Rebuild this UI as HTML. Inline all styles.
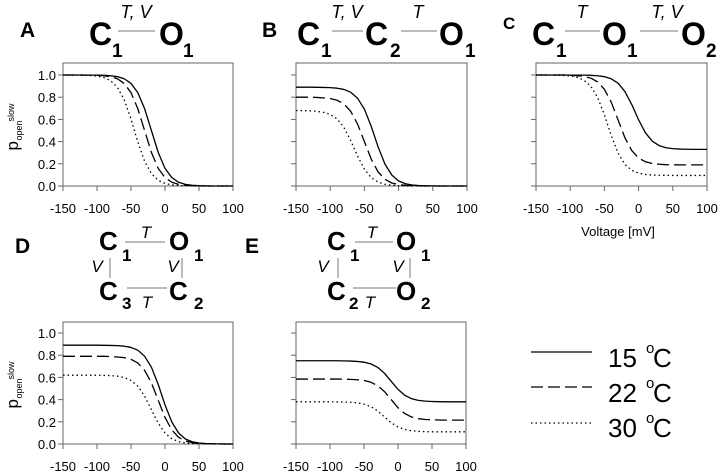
<!DOCTYPE html>
<html><head><meta charset="utf-8"><style>
html,body{margin:0;padding:0;background:#fff;}
svg{display:block;font-family:"Liberation Sans",sans-serif;}
</style></head><body>
<svg id="fig" width="720" height="474" viewBox="0 0 720 474" xmlns="http://www.w3.org/2000/svg">
<g id="schemes" fill="#000">
 <text x="20" y="37" font-size="21" font-weight="bold">A</text>
 <g>
  <text x="89" y="45" font-size="32" font-weight="bold">C</text><text x="112" y="57" font-size="19" font-weight="bold">1</text>
  <line x1="118" y1="31" x2="155" y2="31" stroke="#777" stroke-width="1"/>
  <text x="136" y="18" font-size="18" font-style="italic" text-anchor="middle">T, V</text>
  <text x="159" y="45" font-size="32" font-weight="bold">O</text><text x="183" y="57" font-size="19" font-weight="bold">1</text>
 </g>
 <text x="262" y="37" font-size="21" font-weight="bold">B</text>
 <g>
  <text x="297" y="45" font-size="32" font-weight="bold">C</text><text x="321" y="57" font-size="19" font-weight="bold">1</text>
  <line x1="332" y1="31" x2="363" y2="31" stroke="#777"/>
  <text x="347" y="18" font-size="18" font-style="italic" text-anchor="middle">T, V</text>
  <text x="365" y="45" font-size="32" font-weight="bold">C</text><text x="390" y="57" font-size="19" font-weight="bold">2</text>
  <line x1="401" y1="31" x2="437" y2="31" stroke="#777"/>
  <text x="418" y="18" font-size="18" font-style="italic" text-anchor="middle">T</text>
  <text x="439" y="45" font-size="32" font-weight="bold">O</text><text x="465" y="57" font-size="19" font-weight="bold">1</text>
 </g>
 <text x="503" y="29" font-size="17" font-weight="bold">C</text>
 <g>
  <text x="532" y="45" font-size="32" font-weight="bold">C</text><text x="556" y="57" font-size="19" font-weight="bold">1</text>
  <line x1="565" y1="31" x2="600" y2="31" stroke="#777"/>
  <text x="582" y="18" font-size="18" font-style="italic" text-anchor="middle">T</text>
  <text x="602" y="45" font-size="32" font-weight="bold">O</text><text x="627" y="57" font-size="19" font-weight="bold">1</text>
  <line x1="640" y1="31" x2="678" y2="31" stroke="#777"/>
  <text x="667" y="18" font-size="18" font-style="italic" text-anchor="middle">T, V</text>
  <text x="681" y="45" font-size="32" font-weight="bold">O</text><text x="706" y="57" font-size="19" font-weight="bold">2</text>
 </g>
 <text x="15" y="253" font-size="21" font-weight="bold">D</text>
 <g>
  <text x="99" y="250" font-size="26" font-weight="bold">C</text><text x="122" y="261" font-size="17" font-weight="bold">1</text>
  <line x1="125" y1="242" x2="165" y2="242" stroke="#777"/>
  <text x="146" y="238" font-size="17" font-style="italic" text-anchor="middle">T</text>
  <text x="169" y="250" font-size="26" font-weight="bold">O</text><text x="194" y="261" font-size="17" font-weight="bold">1</text>
  <line x1="110" y1="258" x2="110" y2="278" stroke="#777"/>
  <text x="97" y="272" font-size="17" font-style="italic" text-anchor="middle">V</text>
  <line x1="182" y1="258" x2="182" y2="278" stroke="#777"/>
  <text x="173" y="272" font-size="17" font-style="italic" text-anchor="middle">V</text>
  <text x="99" y="300" font-size="26" font-weight="bold">C</text><text x="122" y="309" font-size="17" font-weight="bold">3</text>
  <line x1="127" y1="288" x2="167" y2="288" stroke="#777"/>
  <text x="147" y="308" font-size="17" font-style="italic" text-anchor="middle">T</text>
  <text x="169" y="300" font-size="26" font-weight="bold">C</text><text x="194" y="309" font-size="17" font-weight="bold">2</text>
 </g>
 <text x="245" y="253" font-size="21" font-weight="bold">E</text>
 <g>
  <text x="327" y="250" font-size="26" font-weight="bold">C</text><text x="350" y="261" font-size="17" font-weight="bold">1</text>
  <line x1="355" y1="242" x2="393" y2="242" stroke="#777"/>
  <text x="372" y="238" font-size="17" font-style="italic" text-anchor="middle">T</text>
  <text x="396" y="250" font-size="26" font-weight="bold">O</text><text x="421" y="261" font-size="17" font-weight="bold">1</text>
  <line x1="338" y1="258" x2="338" y2="278" stroke="#777"/>
  <text x="323" y="272" font-size="17" font-style="italic" text-anchor="middle">V</text>
  <line x1="410" y1="258" x2="410" y2="278" stroke="#777"/>
  <text x="398" y="272" font-size="17" font-style="italic" text-anchor="middle">V</text>
  <text x="327" y="300" font-size="26" font-weight="bold">C</text><text x="349" y="309" font-size="17" font-weight="bold">2</text>
  <line x1="353" y1="288" x2="396" y2="288" stroke="#777"/>
  <text x="370" y="308" font-size="17" font-style="italic" text-anchor="middle">T</text>
  <text x="396" y="300" font-size="26" font-weight="bold">O</text><text x="421" y="309" font-size="17" font-weight="bold">2</text>
 </g>
</g>
<g id="plots"></g>
<text x="618" y="236" font-size="13" text-anchor="middle">Voltage [mV]</text>
<g font-size="26">
 <g>
  <line x1="531" y1="352" x2="592" y2="352" stroke="#000" stroke-width="1.3"/>
  <text x="608" y="367">15</text><text x="646" y="353" font-size="15">o</text><text x="653" y="367">C</text>
 </g>
 <g>
  <line x1="531" y1="387" x2="592" y2="387" stroke="#000" stroke-width="1.3" stroke-dasharray="12,5"/>
  <text x="608" y="402">22</text><text x="646" y="388" font-size="15">o</text><text x="653" y="402">C</text>
 </g>
 <g>
  <line x1="531" y1="423" x2="592" y2="423" stroke="#000" stroke-width="1.3" stroke-dasharray="1.5,3"/>
  <text x="608" y="437">30</text><text x="646" y="423" font-size="15">o</text><text x="653" y="437">C</text>
 </g>
</g>
</svg>
<script>
const voltages = [-150,-140,-130,-120,-110,-100,-90,-80,-70,-60,-50,-40,-30,-20,-10,0,10,20,30,40,50,60,70,80,90,100];
const xTicks = [-150,-100,-50,0,50,100];
const yTicks = [0,0.2,0.4,0.6,0.8,1.0];
const yTickLabels = ["0.0","0.2","0.4","0.6","0.8","1.0"];
const seriesNames = ["15C","22C","30C"];

const a15 = [1,1,1,1,.999,.999,.997,.993,.985,.966,.924,.841,.697,.5,.303,.159,.076,.034,.015,.007,.003,.001,0,0,0,0];
const a22 = [1,1,1,.999,.999,.997,.993,.985,.966,.924,.841,.697,.5,.303,.159,.076,.034,.015,.007,.003,.001,0,0,0,0,0];
const a30 = [1,.999,.999,.998,.996,.99,.977,.949,.889,.777,.603,.397,.223,.111,.051,.023,.01,.004,.002,.001,0,0,0,0,0,0];

const b15 = [.89,.89,.89,.889,.888,.886,.881,.87,.845,.791,.692,.537,.353,.198,.099,.045,.02,.009,.004,.002,.001,0,0,0,0,0];
const b22 = [.8,.8,.8,.798,.794,.788,.773,.739,.673,.558,.4,.242,.127,.061,.027,.012,.006,.002,.001,0,0,0,0,0,0,0];
const b30 = [.68,.679,.677,.673,.664,.645,.605,.528,.41,.27,.152,.075,.035,.016,.007,.003,.001,0,0,0,0,0,0,0,0,0];

const c15 = [1,1,1,1,1,.999,.999,.999,.997,.993,.985,.966,.926,.851,.734,.596,.479,.404,.364,.345,.337,.333,.331,.33,.33,.33];
const c22 = [1,1,1,1,1,.998,.994,.988,.972,.938,.871,.755,.595,.435,.319,.252,.218,.202,.196,.192,.191,.19,.19,.19,.19,.19];
const c30 = [1,.999,.999,.998,.996,.991,.979,.954,.9,.798,.641,.454,.297,.195,.141,.116,.104,.099,.097,.096,.095,.095,.095,.095,.095,.095];

const d15 = [.89,.89,.89,.89,.89,.89,.889,.888,.886,.881,.87,.845,.791,.692,.537,.353,.198,.099,.045,.02,.009,.004,.002,.001,0,0];
const d22 = [.79,.79,.79,.79,.79,.79,.79,.788,.784,.778,.763,.73,.664,.551,.395,.239,.126,.06,.027,.012,.006,.002,.001,0,0,0];
const d30 = [.62,.62,.62,.62,.62,.62,.618,.616,.611,.599,.573,.521,.432,.31,.188,.099,.047,.021,.009,.004,.002,.001,0,0,0,0];

const e15 = [.75,.75,.75,.75,.75,.75,.75,.749,.747,.744,.737,.722,.691,.638,.565,.492,.439,.408,.393,.386,.383,.381,.38,.38,.38,.38];
const e22 = [.585,.585,.585,.585,.585,.585,.585,.584,.582,.579,.572,.557,.526,.473,.4,.327,.274,.243,.228,.221,.218,.216,.215,.215,.215,.215];
const e30 = [.38,.38,.38,.38,.38,.38,.379,.378,.376,.371,.359,.337,.298,.245,.192,.153,.131,.119,.114,.111,.11,.11,.11,.11,.11,.11];

const NS = "http://www.w3.org/2000/svg";
const plots = document.getElementById('plots');
const dashes = ["", "12,5", "1.5,3"];
const panels = [
  {id:"a", l:63, r:233, top:63, y1:75, y0:186, ylab:true, data:[a15,a22,a30]},
  {id:"b", l:296, r:467, top:63, y1:75, y0:186, ylab:false, data:[b15,b22,b30]},
  {id:"c", l:536, r:707, top:63, y1:75, y0:186, ylab:false, data:[c15,c22,c30]},
  {id:"d", l:63, r:233, top:322, y1:333, y0:444, ylab:true, data:[d15,d22,d30]},
  {id:"e", l:296, r:466, top:322, y1:333, y0:444, ylab:false, data:[e15,e22,e30]}
];
function mk(tag, attrs, parent){
  const el = document.createElementNS(NS, tag);
  for (const k in attrs) el.setAttribute(k, attrs[k]);
  parent.appendChild(el);
  return el;
}
panels.forEach(p => {
  const g = mk('g', {}, plots);
  
  
  const xs = v => p.l + (v + 150) / 250 * (p.r - p.l);
  const ys = v => p.y0 - v * (p.y0 - p.y1);
  const box = mk('rect', {x:p.l, y:p.top, width:p.r-p.l, height:p.y0-p.top, fill:'none', stroke:'#666', 'stroke-width':1}, g);
  
  
  xTicks.forEach(t => {
    const x = xs(t);
    const tk = mk('line', {x1:x, x2:x, y1:p.y0, y2:p.y0+5, stroke:'#666'}, g);
    
    
    const tx = mk('text', {x:x, y:p.y0+27, 'font-size':13, 'text-anchor':'middle'}, g);
    tx.textContent = String(t);
    
    
  });
  yTicks.forEach((t, i) => {
    const y = ys(t);
    const tk = mk('line', {x1:p.l-5, x2:p.l, y1:y, y2:y, stroke:'#666'}, g);
    
    
    if (p.ylab) {
      const tx = mk('text', {x:p.l-7, y:y+5, 'font-size':13, 'text-anchor':'end'}, g);
      tx.textContent = yTickLabels[i];
      
      
    }
  });
  if (p.ylab) {
    const cy = (p.y0 + p.y1) / 2 + 20;
    const yt = mk('g', {transform:'translate(20,' + cy + ') rotate(-90)'}, g);
    
    
    mk('text', {x:0, y:-2, 'font-size':17}, yt).textContent = 'p';
    mk('text', {x:10, y:2, 'font-size':9}, yt).textContent = 'open';
    mk('text', {x:29, y:-6, 'font-size':9}, yt).textContent = 'slow';
  }
  p.data.forEach((vals, si) => {
    let d = '';
    vals.forEach((v, i) => { d += (i ? 'L' : 'M') + xs(voltages[i]).toFixed(2) + ',' + ys(v).toFixed(2); });
    const path = mk('path', {d:d, fill:'none', stroke:'#000', 'stroke-width':1.3, 'stroke-linejoin':'round'}, g);
    if (dashes[si]) path.setAttribute('stroke-dasharray', dashes[si]);
    
    
  });
});
</script>
</body></html>
